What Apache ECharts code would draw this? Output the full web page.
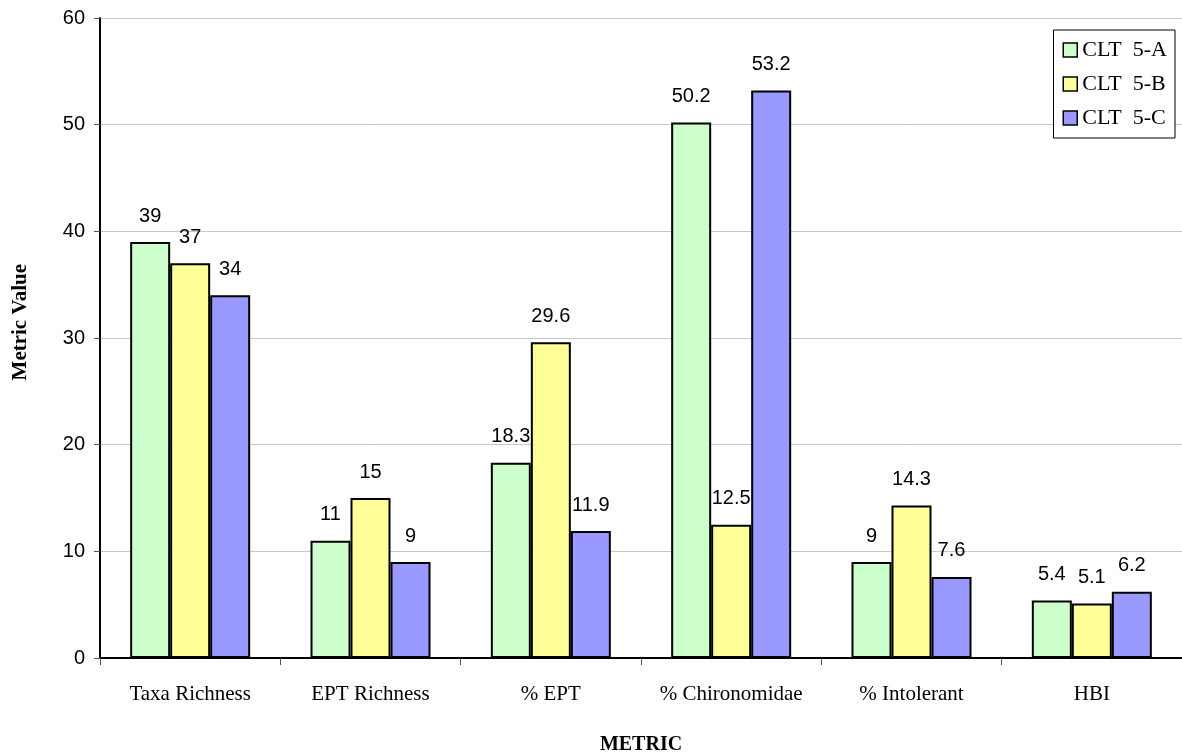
<!DOCTYPE html>
<html>
<head>
<meta charset="utf-8">
<script src="https://cdn.jsdelivr.net/npm/echarts@6/dist/echarts.min.js"></script>
<style>
  html, body { margin: 0; padding: 0; background: #fff; }
  #chart { width: 1182px; height: 754px; }
</style>
</head>
<body>
<div id="chart"></div>
<script>
// Benthic macroinvertebrate metrics for three sampling stations
const categories = ['Taxa Richness', 'EPT Richness', '% EPT', '% Chironomidae', '% Intolerant', 'HBI'];
const seriesNames = ['CLT 5-A', 'CLT 5-B', 'CLT 5-C'];
const valuesA = [39, 11, 18.3, 50.2, 9, 5.4];
const valuesB = [37, 15, 29.6, 12.5, 14.3, 5.1];
const valuesC = [34, 9, 11.9, 53.2, 7.6, 6.2];
const seriesColors = ['#CCFFCC', '#FFFF99', '#9999FF'];

const serif = '"Liberation Serif", "Times New Roman", serif';
const sans = '"Liberation Sans", Arial, sans-serif';

const chart = echarts.init(document.getElementById('chart'), null, { renderer: 'canvas' });

const seriesData = [valuesA, valuesB, valuesC];

chart.setOption({
  animation: false,
  backgroundColor: '#ffffff',
  grid: { left: 100, right: 0, top: 18, bottom: 96, containLabel: false, outerBoundsMode: 'none' },
  legend: {
    right: 7,
    top: 30,
    orient: 'vertical',
    data: seriesNames,
    formatter: name => name.replace(' ', '  '),
    itemWidth: 14,
    itemHeight: 14,
    itemGap: 12,
    padding: [9, 8, 9, 9],
    borderColor: '#000',
    borderWidth: 1,
    backgroundColor: '#fff',
    textStyle: { fontFamily: serif, fontSize: 22, color: '#000' },
    icon: 'rect',
    itemStyle: { borderColor: '#000', borderWidth: 1.5 }
  },
  graphic: [{
    type: 'text',
    left: 10,
    top: 264,
    rotation: Math.PI / 2,
    style: {
      text: 'Metric Value',
      fontFamily: serif,
      fontSize: 21,
      fontWeight: 'bold',
      fill: '#000'
    }
  }],
  xAxis: {
    type: 'category',
    data: categories,
    name: 'METRIC',
    nameLocation: 'middle',
    nameGap: 77,
    nameTextStyle: { fontFamily: serif, fontSize: 20, fontWeight: 'bold', color: '#000' },
    axisLine: { lineStyle: { color: '#000', width: 2 } },
    axisTick: { show: true, length: 7, alignWithLabel: false, lineStyle: { color: '#555', width: 1 } },
    axisLabel: { interval: 0, fontFamily: serif, fontSize: 21, color: '#000', margin: 26 },
    splitLine: { show: false }
  },
  yAxis: {
    type: 'value',
    min: 0,
    max: 60,
    interval: 10,
    axisLine: { show: true, lineStyle: { color: '#000', width: 2 } },
    axisTick: { show: true, inside: false, length: 6, lineStyle: { color: '#555', width: 1 } },
    axisLabel: { fontFamily: sans, fontSize: 20, color: '#000', margin: 15 },
    splitLine: { show: true, lineStyle: { color: '#c8c8c8', width: 1 } }
  },
  series: seriesNames.map((name, i) => ({
    name: name,
    type: 'bar',
    data: seriesData[i],
    barWidth: 40,
    barGap: '0%',
    itemStyle: { color: seriesColors[i], borderColor: '#000', borderWidth: 2 },
    label: {
      show: true,
      position: 'top',
      distance: 16,
      fontFamily: sans,
      fontSize: 20,
      color: '#000'
    }
  }))
});
</script>
</body>
</html>
